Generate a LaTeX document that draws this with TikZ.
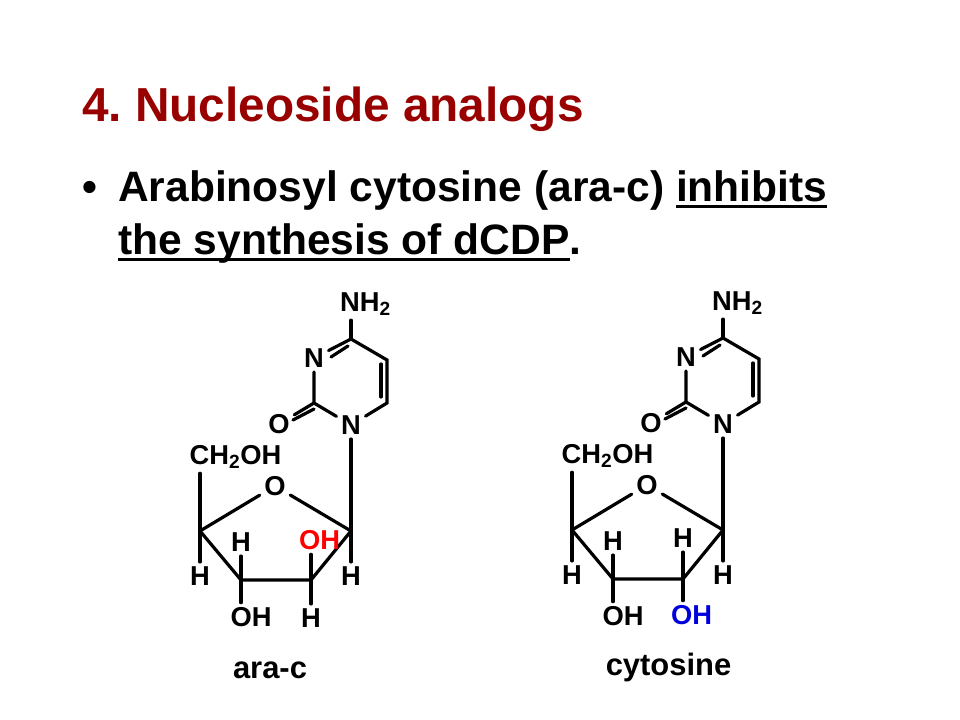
\documentclass[tikz,border=0pt]{standalone}
\usepackage{fontspec}
\setmainfont{Liberation Sans}
\frenchspacing
\newcommand{\ulbox}[1]{\setbox0=\hbox{#1}\rlap{\rule[-4.2pt]{\wd0}{1.7pt}}\box0 }
\definecolor{titlered}{RGB}{153,0,0}
\definecolor{ohblue}{RGB}{0,0,220}
\tikzset{
 bond/.style={line width=2.4pt,black,line cap=round},
 atom/.style={font=\fontsize{20.5}{21}\selectfont\bfseries,inner sep=0pt,outer sep=3.5pt},
 caption/.style={font=\fontsize{23.2}{25}\selectfont\bfseries,inner sep=0pt},
 heading/.style={font=\fontsize{35.8}{38}\selectfont\bfseries,text=titlered,inner sep=0pt,anchor=base west},
 bodyline/.style={font=\fontsize{31.9}{34}\selectfont\bfseries,inner sep=0pt,anchor=base west}
}
\begin{document}
\begin{tikzpicture}[x=0.75pt,y=-0.75pt]
\useasboundingbox (0,0) rectangle (960,720);
\fill[white] (0,0) rectangle (960,720);

\node[heading] (title) at (82,122) {4. Nucleoside analogs};
\node[bodyline] (bullet) at (82,202) {•};
\node[bodyline] (line1) at (118,202) {Arabinosyl cytosine (ara-c) \ulbox{inhibits}};
\node[bodyline] (line2) at (118,255) {\ulbox{the synthesis of dCDP}.};

\foreach \m/\dx/\dy in {a/0/0,b/372/-1}{
\begin{scope}[shift={(\dx,\dy)}]
 \coordinate (\m c4) at (351,339);
 \coordinate (\m c5) at (387,360);
 \coordinate (\m c6) at (387,403);
 \coordinate (\m c2) at (314,403);
 \coordinate (\m d4) at (348,346);
 \coordinate (\m d3) at (331,357);
 \coordinate (\m d5) at (381,364);
 \coordinate (\m d6) at (381,397);
 \coordinate (\m d2) at (314,409);
 \coordinate (\m do) at (293,420);
 \coordinate (\m sc4) at (200,531);
 \coordinate (\m sc3) at (241,580);
 \coordinate (\m sc2) at (311,580);
 \coordinate (\m sc1) at (351,531);

 \node[atom] (\m nh) at (365.5,304) {NH\textsubscript{2}};
 \node[atom] (\m n3) at (314,358) {N};
 \node[atom] (\m n1) at (351,425) {N};
 \node[atom] (\m oc) at (279,424) {O};
 \node[atom] (\m ch) at (235.5,457) {CH\textsubscript{2}OH};
 \node[atom] (\m os) at (275,486) {O};
 \node[atom] (\m h4) at (200,576) {H};
 \node[atom] (\m h1) at (351,576) {H};
 \node[atom] (\m h3) at (241,542) {H};
 \node[atom] (\m oh3) at (251,617) {OH};

 \draw[bond] (\m c4) -- (\m c4 |- \m nh.south);
 \draw[bond] (\m c4) -- (\m c5) -- (\m c6) -- (\m n1);
 \draw[bond] (\m c4) -- (\m n3);
 \draw[bond] (\m d4) -- (\m d3);
 \draw[bond] (\m d5) -- (\m d6);
 \draw[bond] (\m n3) -- (\m c2) -- (\m n1);
 \draw[bond] (\m c2) -- (\m oc);
 \draw[bond] (\m d2) -- (\m do);
 \draw[bond] (\m n1) -- (\m sc1);
 \draw[bond] (\m sc4) -- (\m sc4 |- \m ch.south);
 \draw[bond] (\m sc4) -- (\m os) -- (\m sc1);
 \draw[bond] (\m sc4) -- (\m sc3) -- (\m sc2) -- (\m sc1);
 \draw[bond] (\m sc4) -- (\m h4);
 \draw[bond] (\m sc1) -- (\m h1);
 \draw[bond] (\m sc3) -- (\m h3);
 \draw[bond] (\m sc3) -- (\m sc3 |- \m oh3.north);
\end{scope}
}

\node[atom,text=red] (aoh2) at (319.5,540) {OH};
\node[atom] (ah2) at (311,618) {H};
\draw[bond] (asc2) -- (asc2 |- aoh2.south);
\draw[bond] (asc2) -- (ah2);

\node[atom] (bh2) at (683,538) {H};
\node[atom,text=ohblue] (boh2) at (691.5,615) {OH};
\draw[bond] (bsc2) -- (bh2);
\draw[bond] (bsc2) -- (bsc2 |- boh2.north);

\node[caption] (capa) at (270,670) {ara-c};
\node[caption] (capb) at (668.5,667) {cytosine};
\end{tikzpicture}
\end{document}
